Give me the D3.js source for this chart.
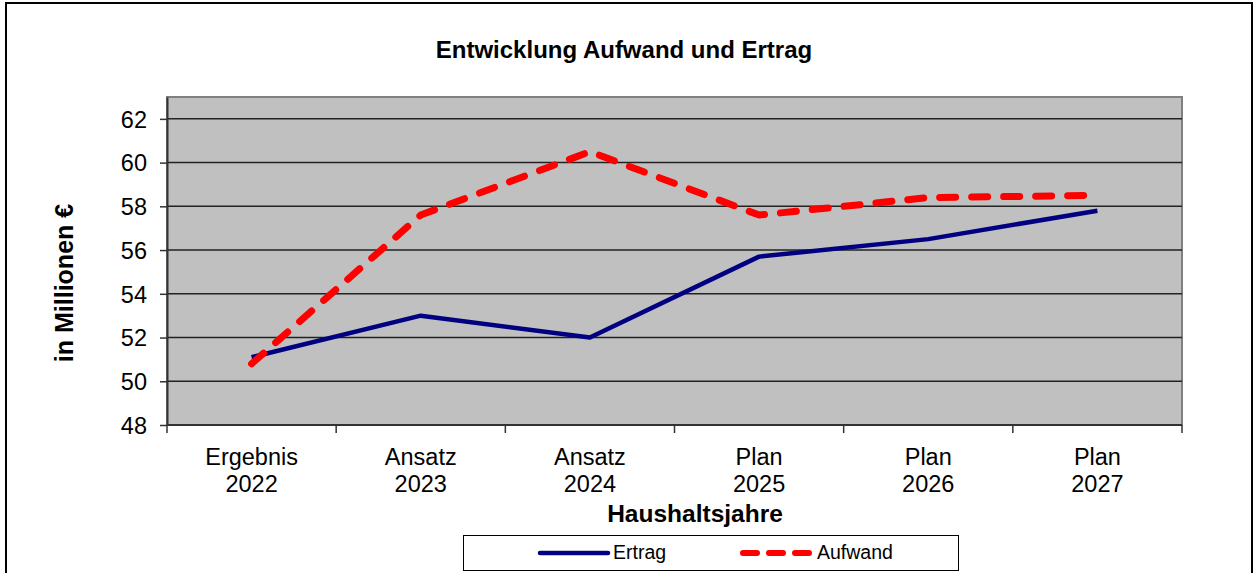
<!DOCTYPE html>
<html>
<head>
<meta charset="utf-8">
<script src="https://cdn.jsdelivr.net/npm/d3@7"></script>
<style>
  body { margin: 0; background: #fff; }
  svg { display: block; font-family: Arial, "Liberation Sans", sans-serif; }
</style>
</head>
<body>
<div id="chart"></div>
<script>
const categories = [["Ergebnis", "2022"], ["Ansatz", "2023"], ["Ansatz", "2024"], ["Plan", "2025"], ["Plan", "2026"], ["Plan", "2027"]];
const ertrag = [51.1, 53.0, 52.0, 55.7, 56.5, 57.8];
const aufwand = [50.8, 57.6, 60.5, 57.6, 58.4, 58.5];
const yTicks = [48, 50, 52, 54, 56, 58, 60, 62];

const W = 1253, H = 573;
const plot = { left: 167, top: 97, right: 1182, bottom: 425 };

const svg = d3.select('#chart').append('svg')
  .attr('width', W).attr('height', H);

// outer frame
svg.append('rect')
  .attr('x', 6).attr('y', 3).attr('width', 1246).attr('height', 580)
  .attr('fill', '#fff').attr('stroke', '#000').attr('stroke-width', 2);

const x = d3.scaleBand()
  .domain(categories.map((d, i) => i))
  .range([plot.left, plot.right]);

const y = d3.scaleLinear()
  .domain([48, 63])
  .range([plot.bottom, plot.top]);

// plot background
svg.append('rect')
  .attr('x', plot.left).attr('y', plot.top)
  .attr('width', plot.right - plot.left).attr('height', plot.bottom - plot.top)
  .attr('fill', '#c0c0c0').attr('stroke', '#808080').attr('stroke-width', 2);

// gridlines
svg.append('g')
  .selectAll('line')
  .data(yTicks.filter(d => d > 48))
  .enter().append('line')
  .attr('x1', plot.left).attr('x2', plot.right)
  .attr('y1', d => y(d)).attr('y2', d => y(d))
  .attr('stroke', '#222').attr('stroke-width', 1.5);

// y axis
const yAxis = svg.append('g')
  .attr('transform', 'translate(' + plot.left + ',0)')
  .call(d3.axisLeft(y).tickValues(yTicks).tickSize(7).tickPadding(13).tickSizeOuter(0));
yAxis.attr('font-size', null).attr('font-family', null);
yAxis.select('.domain').attr('stroke', '#333').attr('stroke-width', 2);
yAxis.selectAll('.tick line').attr('stroke', '#333').attr('stroke-width', 1.5);
yAxis.selectAll('.tick text').attr('font-size', 23.5).attr('fill', '#000').attr('dy', '0.35em');

// x axis
const xAxisG = svg.append('g')
  .attr('transform', 'translate(0,' + plot.bottom + ')');
xAxisG.append('line')
  .attr('x1', plot.left).attr('x2', plot.right)
  .attr('stroke', '#333').attr('stroke-width', 2);
const bounds = d3.range(categories.length + 1).map(i => plot.left + i * x.step());
xAxisG.selectAll('.xt')
  .data(bounds)
  .enter().append('line')
  .attr('class', 'xt')
  .attr('x1', d => d).attr('x2', d => d)
  .attr('y1', 0).attr('y2', 8)
  .attr('stroke', '#333').attr('stroke-width', 1.5);
const xl = xAxisG.selectAll('.xl')
  .data(categories)
  .enter().append('text')
  .attr('class', 'xl')
  .attr('x', (d, i) => x(i) + x.bandwidth() / 2)
  .attr('text-anchor', 'middle')
  .attr('font-size', 23.5).attr('fill', '#000');
xl.append('tspan').attr('x', (d, i) => x(i) + x.bandwidth() / 2).attr('y', 40).text(d => d[0]);
xl.append('tspan').attr('x', (d, i) => x(i) + x.bandwidth() / 2).attr('y', 67).text(d => d[1]);

// titles
svg.append('text')
  .attr('x', 624).attr('y', 58)
  .attr('text-anchor', 'middle')
  .attr('font-size', 24).attr('font-weight', 'bold')
  .text('Entwicklung Aufwand und Ertrag');

svg.append('text')
  .attr('x', 695).attr('y', 522)
  .attr('text-anchor', 'middle')
  .attr('font-size', 24.5).attr('font-weight', 'bold')
  .text('Haushaltsjahre');

svg.append('text')
  .attr('transform', 'translate(73,' + 283 + ') rotate(-90)')
  .attr('text-anchor', 'middle')
  .attr('font-size', 25).attr('font-weight', 'bold')
  .text('in Millionen €');

// lines
const line = d3.line()
  .x((d, i) => x(i) + x.bandwidth() / 2)
  .y(d => y(d));

svg.append('path')
  .datum(ertrag)
  .attr('d', line)
  .attr('fill', 'none')
  .attr('stroke', '#000080')
  .attr('stroke-width', 4.5)
  .attr('stroke-linejoin', 'round');

svg.append('path')
  .datum(aufwand)
  .attr('d', line)
  .attr('fill', 'none')
  .attr('stroke', '#ff0000')
  .attr('stroke-width', 7)
  .attr('stroke-linecap', 'round')
  .attr('stroke-linejoin', 'round')
  .attr('stroke-dasharray', '16,16');

// legend
const lg = svg.append('g');
lg.append('rect')
  .attr('x', 463.5).attr('y', 535.5).attr('width', 495).attr('height', 35)
  .attr('fill', '#fff').attr('stroke', '#000').attr('stroke-width', 1);
lg.append('line')
  .attr('x1', 540).attr('x2', 608).attr('y1', 553).attr('y2', 553)
  .attr('stroke', '#000080').attr('stroke-width', 4.5).attr('stroke-linecap', 'round');
lg.append('text')
  .attr('x', 613).attr('y', 559)
  .attr('font-size', 19.5).text('Ertrag');
lg.append('line')
  .attr('x1', 743).attr('x2', 810).attr('y1', 553).attr('y2', 553)
  .attr('stroke', '#ff0000').attr('stroke-width', 6).attr('stroke-linecap', 'round')
  .attr('stroke-dasharray', '14,12');
lg.append('text')
  .attr('x', 817).attr('y', 559)
  .attr('font-size', 19.5).text('Aufwand');
</script>
</body>
</html>
